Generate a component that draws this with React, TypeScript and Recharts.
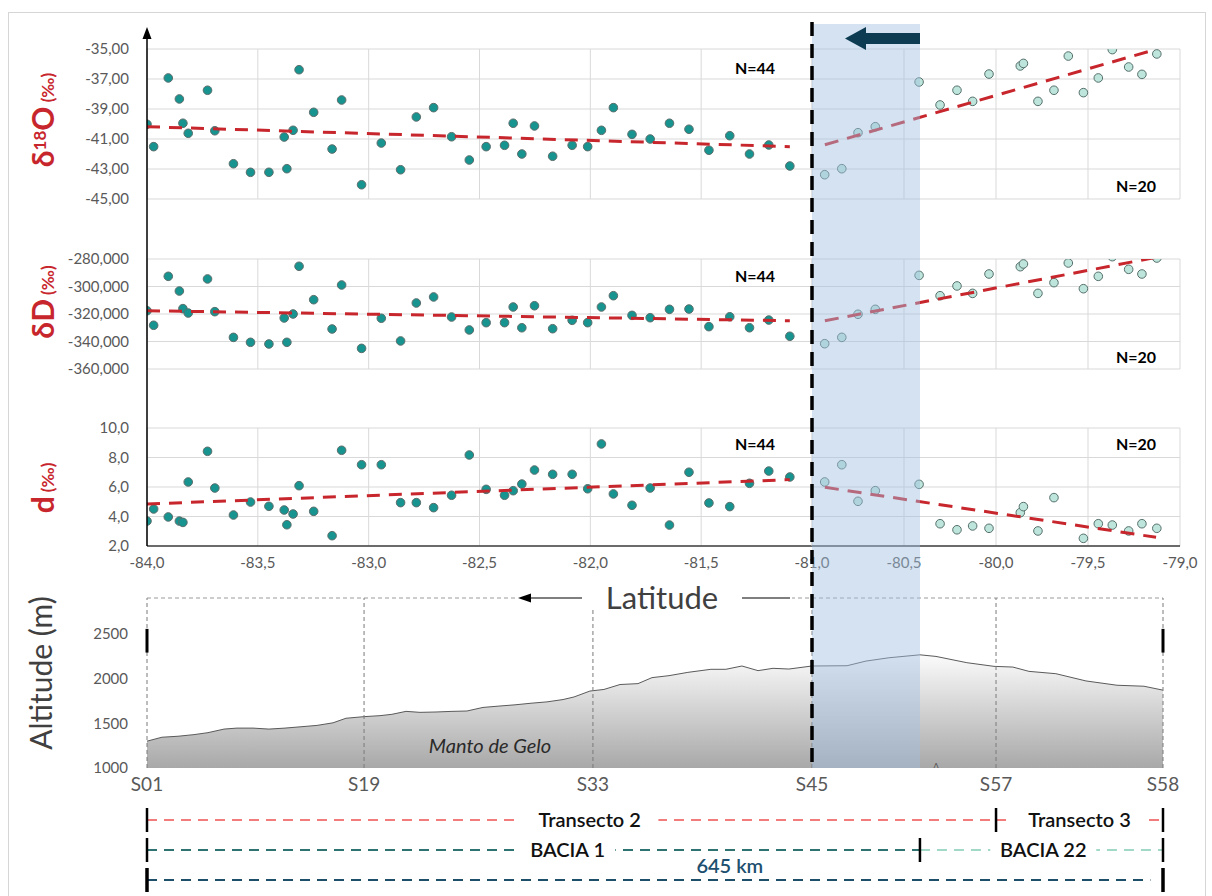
import React from "react";
import {
  ScatterChart,
  Scatter,
  XAxis,
  YAxis,
  CartesianGrid,
  AreaChart,
  Area,
  ReferenceLine,
} from "recharts";

const FONT = "Lato, 'Open Sans', 'DejaVu Sans', sans-serif";
const RED = "#c8262d";
const GRID = "#d9d9d9";
const TICK = { fill: "#595959", fontSize: 15, fontFamily: FONT };

// samples west of -81 (N=44), same latitudes in every panel
const westLat = [
  -84.0, -83.97, -83.904, -83.854, -83.838, -83.814, -83.727, -83.694, -83.61, -83.533, -83.45,
  -83.381, -83.369, -83.341, -83.314, -83.248, -83.165, -83.122, -83.032, -82.943, -82.856,
  -82.785, -82.707, -82.626, -82.546, -82.47, -82.387, -82.348, -82.309, -82.252, -82.17,
  -82.082, -82.012, -81.95, -81.896, -81.812, -81.73, -81.643, -81.555, -81.465, -81.371,
  -81.282, -81.195, -81.1,
];
const westO18 = [
  -40.02, -41.51, -36.93, -38.33, -39.95, -40.62, -37.75, -40.45, -42.65, -43.22, -43.22,
  -40.87, -42.98, -40.42, -36.38, -39.22, -41.67, -38.4, -44.05, -41.27, -43.05, -39.53,
  -38.91, -40.85, -42.4, -41.51, -41.42, -39.95, -42.0, -40.13, -42.15, -41.42, -41.51,
  -40.42, -38.91, -40.69, -41.0, -39.95, -40.35, -41.75, -40.78, -42.0, -41.4, -42.8,
];
const westDD = [
  -317.6, -328.2, -292.6, -303.3, -316.1, -319.3, -294.5, -318.3, -337.0, -340.6, -341.8,
  -322.9, -340.6, -320.0, -285.3, -309.6, -330.9, -298.9, -345.0, -323.1, -339.6, -312.0,
  -307.6, -322.2, -331.6, -326.3, -326.3, -314.9, -330.0, -314.0, -330.7, -324.6, -326.3,
  -314.9, -306.7, -321.0, -322.7, -316.6, -316.4, -329.2, -322.0, -330.0, -324.4, -336.2,
];
const westDex = [
  3.69, 4.51, 3.97, 3.69, 3.6, 6.34, 8.42, 5.93, 4.1, 4.98, 4.69, 4.44, 3.44, 4.17, 6.09,
  4.35, 2.7, 8.49, 7.51, 7.51, 4.94, 4.94, 4.6, 5.44, 8.17, 5.84, 5.44, 5.75, 6.2, 7.15,
  6.86, 6.86, 5.88, 8.92, 5.53, 4.76, 5.93, 3.42, 7.0, 4.92, 4.67, 6.25, 7.08, 6.68,
];

// samples east of -81 (N=20)
const eastLat = [
  -80.931, -80.838, -80.75, -80.656, -80.418, -80.304, -80.212, -80.127, -80.038, -79.868,
  -79.851, -79.772, -79.685, -79.607, -79.525, -79.444, -79.368, -79.279, -79.207, -79.126,
];
const eastO18 = [
  -43.38, -42.98, -40.58, -40.18, -37.2, -38.73, -37.75, -38.49, -36.67, -36.13, -35.96,
  -38.49, -37.75, -35.47, -37.91, -36.93, -35.04, -36.2, -36.69, -35.33,
];
const eastDD = [
  -341.6, -337.0, -320.2, -316.6, -291.9, -306.7, -299.6, -305.0, -290.9, -285.6, -283.6,
  -305.0, -297.2, -282.9, -301.6, -292.6, -278.3, -287.5, -290.9, -279.3,
];
// one sample falls below the d axis and is not visible
const eastDex = [
  6.34, 7.51, 5.03, 5.75, 6.18, 3.51, 3.1, 3.36, 3.2, 4.26, 4.67, 3.02, 5.28, null, 2.52,
  3.51, 3.42, 3.02, 3.51, 3.2,
];

// linear trends, end points
const westTrendLat = [-84, -81.1];
const westTrendO18 = [-40.18, -41.51];
const westTrendDD = [-317.6, -324.9];
const westTrendDex = [4.85, 6.5];
const eastTrendLat = [-80.93, -79.13];
const eastTrendO18 = [-41.38, -35.02];
const eastTrendDD = [-324.9, -278.8];
const eastTrendDex = [5.98, 2.59];

const westLatTicks = [-84, -83.5, -83, -82.5, -82, -81.5];
const eastLatTicks = [-81, -80.5, -80, -79.5, -79];
const o18Ticks = [-45, -43, -41, -39, -37, -35];
const dDTicks = [-360, -340, -320, -300, -280];
const dexTicks = [2, 4, 6, 8, 10];

// altitude profile along the transect
const stationNames = ["S01", "S19", "S33", "S45", "S57", "S58"];
const stationKm = [0, 137.8, 283.1, 422.2, 539.0, 645];
const profileKm = [
  0, 9.5, 19.7, 29.8, 38.7, 48.9, 57.1, 67.3, 77.4, 87.6, 97.8, 107.9, 118.1, 126.3, 137.8,
  147.9, 155.5, 164.4, 173.3, 183.5, 193.6, 203.1, 213.3, 223.4, 233.6, 243.8, 253.9, 264.1,
  271.1, 281.2, 290.1, 300.3, 311.7, 320.6, 331.4, 343.4, 358.0, 367.5, 377.7, 387.9, 397.4,
  407.5, 422.1, 444.4, 456.4, 471.0, 490.7, 500.9, 520.5, 537.7, 549.7, 559.9, 577.0, 596.1,
  615.8, 632.9, 645,
];
const profileAlt = [
  1300, 1344, 1355, 1373, 1395, 1435, 1446, 1446, 1435, 1446, 1461, 1476, 1505, 1556, 1574,
  1585, 1600, 1633, 1622, 1626, 1633, 1637, 1677, 1692, 1706, 1724, 1739, 1765, 1794, 1860,
  1878, 1933, 1943, 2010, 2032, 2069, 2103, 2103, 2140, 2088, 2114, 2106, 2140, 2143, 2195,
  2232, 2265, 2247, 2177, 2136, 2128, 2080, 2054, 1973, 1925, 1914, 1870,
];
const altTicks = [1000, 1500, 2000, 2500];

// transect / basin bars under the profile
const transectBreaksKm = [0, 539.0, 645];
const transectNames = ["Transecto 2", "Transecto 3"];
const transectLabelKm = [281, 592];
const basinBreaksKm = [0, 490.7, 645];
const basinNames = ["BACIA 1", "BACIA 22"];
const basinLabelKm = [267, 569];
const totalKm = 645;
const totalLabelKm = 370;

type P = { lat: number; v: number };
const toPts = (lat: number[], vals: (number | null)[]): P[] =>
  lat.flatMap((l, i) => (vals[i] == null ? [] : [{ lat: l, v: vals[i] as number }]));

const fmt = (d: number) => (v: number) => v.toFixed(d).replace(".", ",");

const westDot = (p: any) => (
  <circle cx={p.cx} cy={p.cy} r={4.3} fill="#17948f" stroke="#5b6e6c" strokeWidth={1} />
);
const eastDot = (p: any) => (
  <circle cx={p.cx} cy={p.cy} r={4.3} fill="#bde5dc" stroke="#56706b" strokeWidth={1} />
);
const noDot = () => <g />;

function Panel({ plotTop, plotH, domain, ticks, decimals, west, east, westTrend, eastTrend, showX }: any) {
  const mt = 10;
  const mb = showX ? 0 : 10;
  const xh = showX ? 34 : 0;
  const h = mt + plotH + mb + xh;
  const xAxisProps = {
    type: "number" as const,
    dataKey: "lat",
    hide: !showX,
    height: xh,
    tickFormatter: fmt(1),
    axisLine: { stroke: "#404040", strokeWidth: 1.5 },
    tickLine: false,
    tickSize: 0,
    tickMargin: 11,
    tick: TICK,
    interval: 0 as const,
    allowDataOverflow: true,
  };
  return (
    <>
      <div style={{ position: "absolute", left: 60, top: plotTop - mt }}>
        <ScatterChart width={752} height={h} margin={{ top: mt, right: 0, bottom: mb, left: 0 }}>
          <CartesianGrid stroke={GRID} />
          <XAxis {...xAxisProps} domain={[-84, -81]} ticks={westLatTicks} />
          <YAxis
            type="number"
            dataKey="v"
            domain={domain}
            ticks={ticks}
            width={87}
            tickFormatter={fmt(decimals)}
            axisLine={false}
            tickLine={false}
            tickSize={0}
            tickMargin={18}
            tick={TICK}
            interval={0}
            allowDataOverflow
          />
          <Scatter data={west} shape={westDot} isAnimationActive={false} />
          <Scatter
            data={westTrend}
            shape={noDot}
            line={{ stroke: RED, strokeWidth: 3, strokeDasharray: "13 9" }}
            isAnimationActive={false}
          />
        </ScatterChart>
      </div>
      <div style={{ position: "absolute", left: 782, top: plotTop - mt }}>
        <ScatterChart width={428} height={h} margin={{ top: mt, right: 30, bottom: mb, left: 30 }}>
          <CartesianGrid stroke={GRID} />
          <XAxis {...xAxisProps} domain={[-81, -79]} ticks={eastLatTicks} />
          <YAxis type="number" dataKey="v" domain={domain} ticks={ticks} hide width={0} allowDataOverflow />
          <Scatter data={east} shape={eastDot} isAnimationActive={false} />
          <Scatter
            data={eastTrend}
            shape={noDot}
            line={{ stroke: RED, strokeWidth: 3, strokeDasharray: "14 9" }}
            isAnimationActive={false}
          />
        </ScatterChart>
      </div>
    </>
  );
}

const Txt = ({ x, y, children, style }: any) => (
  <div
    style={{
      position: "absolute",
      left: x,
      top: y,
      transform: "translate(-50%, -50%)",
      whiteSpace: "nowrap",
      fontFamily: FONT,
      ...style,
    }}
  >
    {children}
  </div>
);

const AxisTitle = ({ x, y, main, sup, tail }: any) => (
  <Txt x={x} y={y} style={{ transform: "translate(-50%, -50%) rotate(-90deg)", color: RED, fontWeight: 700, lineHeight: 1 }}>
    <span style={{ fontSize: 30 }}>
      {main[0]}
      {sup && <sup style={{ fontSize: 17, verticalAlign: "8px" }}>{sup}</sup>}
      {main.slice(1)}
    </span>
    <span style={{ fontSize: 17 }}> {tail}</span>
  </Txt>
);

const makeLabel = (color: string, bg: boolean, dy: number) => (p: any) => {
  const t = p.payload.text as string;
  const w = t.length * 10.5 + 22;
  return (
    <g>
      {bg && <rect x={p.cx - w / 2} y={p.cy - 12} width={w} height={24} fill="#fff" />}
      <text
        x={p.cx}
        y={p.cy + dy}
        dy={7}
        textAnchor="middle"
        fontSize={20}
        fontWeight={600}
        fill={color}
        fontFamily={FONT}
      >
        {t}
      </text>
    </g>
  );
};
const makeTick = (len: number, width: number) => (p: any) => (
  <line x1={p.cx} y1={p.cy - len} x2={p.cx} y2={p.cy + len} stroke="#000" strokeWidth={width} />
);

export default function App() {
  const altData = profileKm.map((km, i) => ({ km, alt: profileAlt[i] }));
  const transectSegs = transectNames.map((_, i) => [
    { km: transectBreaksKm[i], row: 3 },
    { km: transectBreaksKm[i + 1], row: 3 },
  ]);
  const basinSegs = basinNames.map((_, i) => [
    { km: basinBreaksKm[i], row: 2 },
    { km: basinBreaksKm[i + 1], row: 2 },
  ]);
  const basinColors = ["#2e7272", "#a2d8c8"];
  const barLabels = [
    ...transectNames.map((text, i) => ({ km: transectLabelKm[i], row: 3, text })),
    ...basinNames.map((text, i) => ({ km: basinLabelKm[i], row: 2, text })),
  ];
  const barTicks = [
    ...transectBreaksKm.map((km) => ({ km, row: 3 })),
    ...basinBreaksKm.map((km) => ({ km, row: 2 })),
  ];

  return (
    <div
      style={{
        position: "absolute",
        left: 0,
        top: 0,
        width: 1212,
        height: 896,
        overflow: "hidden",
        background: "#fff",
        fontFamily: FONT,
      }}
    >
      <div style={{ position: "absolute", left: 8, top: 12, width: 1196, height: 900, border: "1px solid #d6d6d6" }} />

      <Panel
        plotTop={49}
        plotH={150}
        domain={[-45, -35]}
        ticks={o18Ticks}
        decimals={2}
        west={toPts(westLat, westO18)}
        east={toPts(eastLat, eastO18)}
        westTrend={toPts(westTrendLat, westTrendO18)}
        eastTrend={toPts(eastTrendLat, eastTrendO18)}
      />
      <Panel
        plotTop={259}
        plotH={110}
        domain={[-360, -280]}
        ticks={dDTicks}
        decimals={3}
        west={toPts(westLat, westDD)}
        east={toPts(eastLat, eastDD)}
        westTrend={toPts(westTrendLat, westTrendDD)}
        eastTrend={toPts(eastTrendLat, eastTrendDD)}
      />
      <Panel
        plotTop={428}
        plotH={118}
        domain={[2, 10]}
        ticks={dexTicks}
        decimals={1}
        west={toPts(westLat, westDex)}
        east={toPts(eastLat, eastDex)}
        westTrend={toPts(westTrendLat, westTrendDex)}
        eastTrend={toPts(eastTrendLat, eastTrendDex)}
        showX
      />

      <div style={{ position: "absolute", left: 60, top: 590 }}>
        <AreaChart width={1133} height={213} data={altData} margin={{ top: 8, right: 30, bottom: 0, left: 0 }}>
          <defs>
            <linearGradient id="altFill" x1="0" y1="0" x2="0" y2="1">
              <stop offset="0%" stopColor="#fbfbfb" />
              <stop offset="100%" stopColor="#a8a8a8" />
            </linearGradient>
          </defs>
          <XAxis
            type="number"
            dataKey="km"
            domain={[0, 645]}
            ticks={stationKm}
            tickFormatter={(v: number) => stationNames[stationKm.indexOf(v)]}
            height={35}
            axisLine={false}
            tickLine={false}
            tickSize={0}
            tickMargin={10}
            tick={{ fill: "#595959", fontSize: 19, fontFamily: FONT }}
            interval={0}
            allowDataOverflow
          />
          <YAxis
            type="number"
            domain={[1000, 2900]}
            ticks={altTicks}
            width={87}
            axisLine={false}
            tickLine={false}
            tickSize={0}
            tickMargin={19}
            tick={TICK}
            interval={0}
            allowDataOverflow
          />
          <Area
            type="linear"
            dataKey="alt"
            stroke="#5a5a5a"
            strokeWidth={1}
            fill="url(#altFill)"
            fillOpacity={1}
            isAnimationActive={false}
          />
          <ReferenceLine y={2900} stroke="#9a9a9a" strokeDasharray="4 3" />
          {stationKm.map((km) => (
            <ReferenceLine key={km} x={km} stroke="#7a7a7a" strokeDasharray="4 3" />
          ))}
          <ReferenceLine segment={[{ x: 0, y: 2290 }, { x: 0, y: 2555 }]} stroke="#000" strokeWidth={3} />
          <ReferenceLine segment={[{ x: 645, y: 2290 }, { x: 645, y: 2555 }]} stroke="#000" strokeWidth={3} />
        </AreaChart>
      </div>

      <div style={{ position: "absolute", left: 60, top: 790 }}>
        <ScatterChart width={1133} height={120} margin={{ top: 0, right: 30, bottom: 0, left: 87 }}>
          <XAxis type="number" dataKey="km" domain={[0, 645]} hide />
          <YAxis type="number" dataKey="row" domain={[0, 4]} hide width={0} />
          {transectSegs.map((seg, i) => (
            <Scatter
              key={"t" + i}
              data={seg}
              shape={noDot}
              line={{ stroke: "#f27c7c", strokeWidth: 2, strokeDasharray: "10 7" }}
              isAnimationActive={false}
            />
          ))}
          {basinSegs.map((seg, i) => (
            <Scatter
              key={"b" + i}
              data={seg}
              shape={noDot}
              line={{ stroke: basinColors[i], strokeWidth: 2, strokeDasharray: "10 7" }}
              isAnimationActive={false}
            />
          ))}
          <Scatter
            data={[{ km: 0, row: 1 }, { km: totalKm - 8, row: 1 }]}
            shape={noDot}
            line={{ stroke: "#1d4e6a", strokeWidth: 2, strokeDasharray: "10 7" }}
            isAnimationActive={false}
          />
          <Scatter data={barLabels} shape={makeLabel("#111", true, 0)} isAnimationActive={false} />
          <Scatter
            data={[{ km: totalLabelKm, row: 1, text: `${totalKm} km` }]}
            shape={makeLabel("#1d5070", false, -14)}
            isAnimationActive={false}
          />
          <Scatter data={barTicks} shape={makeTick(12, 2.5)} isAnimationActive={false} />
          <Scatter
            data={[{ km: 0, row: 1 }, { km: totalKm, row: 1 }]}
            shape={makeTick(12, 3.5)}
            isAnimationActive={false}
          />
        </ScatterChart>
      </div>

      {/* shaded latitude band */}
      <div
        style={{
          position: "absolute",
          left: 812,
          top: 24,
          width: 108,
          height: 744,
          background: "rgba(160,190,225,0.45)",
        }}
      />

      <svg width={1212} height={896} style={{ position: "absolute", left: 0, top: 0, pointerEvents: "none" }}>
        <line x1={147} y1={36} x2={147} y2={546} stroke="#000" strokeWidth={1.5} />
        <polygon points="147,27 142.5,39 151.5,39" fill="#000" />
        <line x1={812} y1={22} x2={812} y2={768} stroke="#000" strokeWidth={3.5} strokeDasharray="14 8" />
        <rect x={862} y={33} width={58} height={11} fill="#0c3b52" />
        <polygon points="845,38.5 866,27 866,50" fill="#0c3b52" />
        <rect x={518} y={588} width={274} height={20} fill="#fff" />
        <line x1={528} y1={598} x2={582} y2={598} stroke="#000" strokeWidth={1.2} />
        <polygon points="518,598 531,593.5 531,602.5" fill="#000" />
        <line x1={742} y1={598} x2={790} y2={598} stroke="#000" strokeWidth={1.2} />
        <text x={662} y={609} textAnchor="middle" fontSize={31} fill="#404040" fontFamily={FONT}>
          Latitude
        </text>
      </svg>

      <AxisTitle x={42} y={120} main="δO" sup="18" tail="(‰)" />
      <AxisTitle x={42} y={302} main="δD" tail="(‰)" />
      <AxisTitle x={42} y={488} main="d" tail="(‰)" />
      <Txt x={40} y={673} style={{ transform: "translate(-50%, -50%) rotate(-90deg)", fontSize: 30, color: "#404040" }}>
        Altitude (m)
      </Txt>

      <Txt x={755} y={67} style={{ fontSize: 16, fontWeight: 700 }}>N=44</Txt>
      <Txt x={755} y={275} style={{ fontSize: 16, fontWeight: 700 }}>N=44</Txt>
      <Txt x={755} y={443} style={{ fontSize: 16, fontWeight: 700 }}>N=44</Txt>
      <Txt x={1136} y={185} style={{ fontSize: 16, fontWeight: 700 }}>N=20</Txt>
      <Txt x={1136} y={356} style={{ fontSize: 16, fontWeight: 700 }}>N=20</Txt>
      <Txt x={1136} y={443} style={{ fontSize: 16, fontWeight: 700 }}>N=20</Txt>

      <Txt x={490} y={745} style={{ fontSize: 20, fontStyle: "italic", color: "#2a2a2a" }}>Manto de Gelo</Txt>
      <Txt x={936} y={764} style={{ fontSize: 10, color: "#555" }}>ʌ</Txt>
    </div>
  );
}
